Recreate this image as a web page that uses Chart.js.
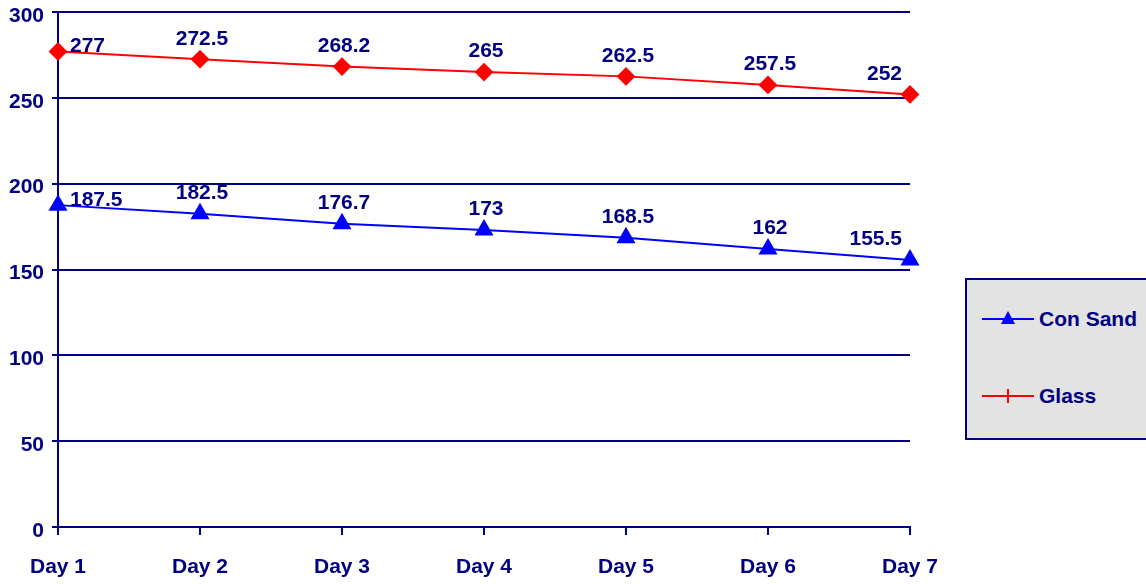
<!DOCTYPE html>
<html>
<head>
<meta charset="utf-8">
<script src="https://cdn.jsdelivr.net/npm/chart.js@4/dist/chart.umd.min.js"></script>
<style>
  html, body { margin: 0; padding: 0; background: #fff; }
  #wrap { position: relative; width: 1146px; height: 584px; }
  #legend {
    position: absolute; left: 965px; top: 278px; width: 190px; height: 162px;
    background: #e3e3e3; border: 2px solid #000080; box-sizing: border-box;
    font: bold 21px "Liberation Sans", Arial, sans-serif; color: #000080;
  }
  .item { position: absolute; left: 0; height: 24px; display: flex; align-items: center; }
  .sym { position: relative; width: 52px; height: 24px; margin-left: 15px; margin-right: 5px; }
  .sym .ln { position: absolute; left: 0; right: 0; top: 11px; height: 2px; }
</style>
</head>
<body>
<div id="wrap">
  <canvas id="chart" width="1146" height="584"></canvas>
  <div id="legend">
    <div class="item" style="top:27px">
      <div class="sym"><div class="ln" style="background:#0000ff"></div>
        <svg style="position:absolute;left:19px;top:4px" width="14" height="14"><polygon points="7,0 14,13 0,13" fill="#0000ff"/></svg>
      </div>Con Sand
    </div>
    <div class="item" style="top:104px">
      <div class="sym"><div class="ln" style="background:#ff0000"></div>
        <div style="position:absolute;left:25px;top:5px;width:2px;height:14px;background:#ff0000"></div>
      </div>Glass
    </div>
  </div>
</div>
<script>
const categories = ['Day 1', 'Day 2', 'Day 3', 'Day 4', 'Day 5', 'Day 6', 'Day 7'];
const conSand = [187.5, 182.5, 176.7, 173, 168.5, 162, 155.5];
const glass = [277, 272.5, 268.2, 265, 262.5, 257.5, 252];
const yTicks = [0, 50, 100, 150, 200, 250, 300];

const navy = '#000080';
const font = { family: '"Liberation Sans", Arial, sans-serif', size: 21, weight: 'bold' };

// value labels above each point
const valueLabels = {
  id: 'valueLabels',
  afterDatasetsDraw(chart) {
    const ctx = chart.ctx;
    ctx.save();
    ctx.font = 'bold 21px "Liberation Sans", Arial, sans-serif';
    ctx.fillStyle = navy;
    chart.data.datasets.forEach((ds, di) => {
      const meta = chart.getDatasetMeta(di);
      meta.data.forEach((pt, i) => {
        const txt = String(ds.data[i]);
        const last = ds.data.length - 1;
        if (i === 0) {
          ctx.textAlign = 'left'; ctx.textBaseline = 'middle';
          ctx.fillText(txt, pt.x + 12, pt.y - 5);
        } else if (i === last) {
          ctx.textAlign = 'right'; ctx.textBaseline = 'bottom';
          ctx.fillText(txt, pt.x - 8, pt.y - 10);
        } else {
          ctx.textAlign = 'center'; ctx.textBaseline = 'bottom';
          ctx.fillText(txt, pt.x + 2, pt.y - 10);
        }
      });
    });
    ctx.restore();
  }
};

new Chart(document.getElementById('chart'), {
  type: 'line',
  data: {
    labels: categories,
    datasets: [
      {
        label: 'Con Sand', data: conSand,
        borderColor: '#0000ff', backgroundColor: '#0000ff', borderWidth: 2,
        pointStyle: 'triangle', pointRadius: 9, pointHoverRadius: 9, tension: 0
      },
      {
        label: 'Glass', data: glass,
        borderColor: '#ff0000', backgroundColor: '#ff0000', borderWidth: 2,
        pointStyle: 'rectRot', pointRadius: 8, pointHoverRadius: 8, tension: 0
      }
    ]
  },
  options: {
    responsive: false,
    animation: false,
    layout: { padding: { top: 12, right: 236, left: 0, bottom: 0 } },
    plugins: { legend: { display: false }, tooltip: { enabled: false } },
    scales: {
      x: {
        offset: false,
        grid: { drawOnChartArea: false, drawTicks: true, tickLength: 8, color: navy, lineWidth: 2 },
        border: { display: true, color: navy, width: 2 },
        ticks: { color: navy, font: font, padding: 20, maxRotation: 0 },
        afterFit(scale) { scale.height = 57; scale.paddingLeft = 0; scale.paddingRight = 0; }
      },
      y: {
        min: 0, max: 300,
        afterBuildTicks(scale) { scale.ticks = yTicks.map(v => ({ value: v })); },
        grid: { color: navy, lineWidth: 2, tickLength: 6 },
        border: { display: true, color: navy, width: 2 },
        ticks: { color: navy, font: font, padding: 8, labelOffset: 4 },
        afterFit(scale) { scale.width = 58; scale.paddingTop = 0; scale.paddingBottom = 0; }
      }
    }
  },
  plugins: [valueLabels]
});
</script>
</body>
</html>
